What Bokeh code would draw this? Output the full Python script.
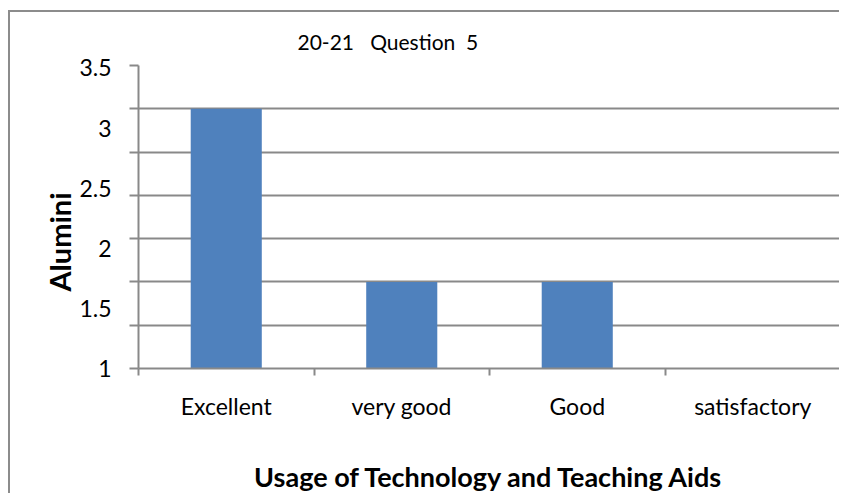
from bokeh.plotting import figure
from bokeh.models import (Range1d, LinearAxis, FixedTicker, ColumnDataSource, Title)
from bokeh.embed import file_html
from bokeh.resources import INLINE

# ---- data ----
categories = ["Excellent", "very good", "Good", "satisfactory"]
alumni = [4, 2, 2, 1]
grid_ticks = [1, 1.5, 2, 2.5, 3, 3.5, 4, 4.5]
shown_tick_labels = [1, 1.5, 2, 2.5, 3, 3.5]
title_text = "20-21 \u00a0 Question\u00a0 5"
x_title = "Usage of Technology and Teaching Aids"
y_title = "Alumini"

FONT = "Lato"
GRAY = "#898989"
BLUE = "#4F81BD"

n = len(categories)
centers = [i + 0.5 for i in range(n)]
bounds = [float(i) for i in range(n + 1)]

source = ColumnDataSource(data=dict(x=centers, val=alumni, cat=categories))

p = figure(width=831, height=483,
           x_range=Range1d(0, n),
           y_range=Range1d(grid_ticks[0], grid_ticks[-1]),
           output_backend="svg", toolbar_location=None,
           x_axis_location=None, y_axis_location=None,
           min_border_left=128, min_border_right=1,
           min_border_top=53, min_border_bottom=125)
# chart-area border: only its left and top edges fall inside the picture
p.styles = {"margin-left": "8px", "margin-top": "10px",
            "border-left": "2px solid #8c8c8c", "border-top": "2px solid #8c8c8c"}
p.outline_line_color = None
p.background_fill_color = "white"
p.border_fill_color = "white"

p.vbar(x="x", top="val", bottom=grid_ticks[0], width=0.405, source=source,
       fill_color=BLUE, line_color=None)

# grid
p.ygrid.ticker = FixedTicker(ticks=grid_ticks)
p.ygrid.grid_line_color = GRAY
p.ygrid.grid_line_width = 2
p.xgrid.grid_line_color = None

# main y axis: line + tick marks at gridlines (labels hidden)
yax = LinearAxis(ticker=FixedTicker(ticks=grid_ticks),
                 major_label_text_font_size="1px", major_label_text_color=None,
                 major_label_standoff=0,
                 major_tick_out=9, major_tick_in=0,
                 minor_tick_line_color=None,
                 axis_line_color=GRAY, axis_line_width=2,
                 major_tick_line_color=GRAY, major_tick_line_width=2)
p.add_layout(yax, "left")

# tick labels axis
p.extra_y_ranges = {"lab": Range1d(shown_tick_labels[0], 3.52)}
lab_ax = LinearAxis(y_range_name="lab", ticker=FixedTicker(ticks=shown_tick_labels),
                    axis_line_color=None, major_tick_line_color=None,
                    minor_tick_line_color=None, major_label_standoff=12,
                    major_label_text_font=FONT, major_label_text_font_size="23px",
                    major_label_text_color="black")
p.add_layout(lab_ax, "left")

# y title
p.add_layout(Title(text=y_title, align="left", offset=77, standoff=0,
                   text_font=FONT, text_font_size="29px", text_font_style="bold",
                   text_color="black"), "left")

# x axis line with boundary ticks
bnd_ax = LinearAxis(ticker=FixedTicker(ticks=bounds),
                    major_label_text_font_size="1px", major_label_text_color=None,
                    major_label_standoff=0,
                    major_tick_out=7, major_tick_in=0, minor_tick_line_color=None,
                    axis_line_color=GRAY, axis_line_width=2,
                    major_tick_line_color=GRAY, major_tick_line_width=2)
p.add_layout(bnd_ax, "below")

cat_ax = LinearAxis(ticker=FixedTicker(ticks=centers),
                    major_label_overrides={c: name for c, name in zip(centers, categories)},
                    axis_line_color=None, major_tick_line_color=None,
                    minor_tick_line_color=None, major_label_standoff=10,
                    major_label_text_font=FONT, major_label_text_font_size="23px",
                    major_label_text_color="black",
                    axis_label=x_title, axis_label_standoff=37,
                    axis_label_text_font=FONT, axis_label_text_font_size="27px",
                    axis_label_text_font_style="bold",
                    axis_label_text_color="black")
p.add_layout(cat_ax, "below")

# title
p.title.text = title_text
p.title.align = "left"
p.title.offset = 159
p.title.vertical_align = "top"
p.title.text_font = FONT
p.title.text_font_size = "21px"
p.title.text_font_style = "normal"
p.title.text_color = "black"
p.title.standoff = 19

open("out.html", "w").write(file_html(p, INLINE))
